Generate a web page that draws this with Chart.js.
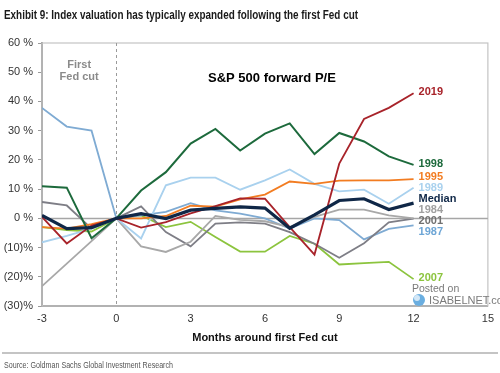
<!DOCTYPE html>
<html>
<head>
<meta charset="utf-8">
<script src="https://cdn.jsdelivr.net/npm/chart.js@4/dist/chart.umd.min.js"></script>
<style>
  html, body { margin: 0; padding: 0; background: #fff; }
  #wrap { width: 500px; height: 373px; position: relative; }
</style>
</head>
<body>
<div id="wrap"><canvas id="peChart" width="500" height="373"></canvas></div>
<script>
// months around the first Fed cut
const months = [-3, -2, -1, 0, 1, 2, 3, 4, 5, 6, 7, 8, 9, 10, 11, 12];

// forward P/E change vs. month 0 (%)
const pe2019   = [0.5, -8.6, -2.5, 0, -3.2, -1.3, 1.7, 4.2, 6.8, 6.7, -3, -12.4, 18.7, 34, 37.8, 42.8];
const pe1998   = [11, 10.5, -6.8, 0, 9.5, 15.8, 25.6, 30.6, 23.2, 29, 32.5, 22, 29.2, 26.3, 21.2, 18.3];
const pe1995   = [-3, -3.5, -2, 0, 0, 0.8, 4.3, 4, 6.5, 8.1, 12.6, 11.8, 12.9, 13, 13, 13.4];
const pe1989   = [-8.2, -6, -3.5, 0, -6.9, 11.3, 13.9, 13.9, 9.8, 13, 16.7, 11.8, 9.2, 9.8, 5, 10.5];
const peMedian = [1, -3.5, -3.2, 0, 1.6, -0.1, 2.8, 3.4, 3.9, 3.5, -3.4, 1.2, 6.1, 6.7, 3, 5.2];
const pe1984   = [-23.2, -15.5, -7.8, 0, -9.6, -11.5, -8, 0.8, -0.5, -1, -3, 0.5, 3, 3, 1, 0];
const pe2001   = [5.6, 4.4, -3.5, 0, 4.1, -4.7, -9.6, -1.8, -1.4, -1.8, -4.7, -8.7, -13.5, -8.5, -1.4, -0.1];
const pe1987   = [37.8, 31.4, 30, 0, 1, 2.2, 5.2, 2.7, 1.6, 0, -3.5, 0, -0.6, -7.2, -3.6, -2.4];
const pe2007   = [-3, -4, -4.5, 0, 1, -3, -1.2, -6.4, -11.4, -11.4, -6, -8.7, -15.8, -15.3, -14.9, -20.8];

const yTicks = [-30, -20, -10, 0, 10, 20, 30, 40, 50, 60];
const xTicks = [-3, 0, 3, 6, 9, 12, 15];

const series = [
  { name: 'Median', data: peMedian, color: '#0f2747', label: '#0f2747', width: 3.2, order: 0 },
  { name: '2019', data: pe2019, color: '#a8232a', label: '#a8232a', width: 1.8, order: 1 },
  { name: '1998', data: pe1998, color: '#1d6a3c', label: '#1d6a3c', width: 2, order: 1 },
  { name: '1995', data: pe1995, color: '#f27c21', label: '#f27c21', width: 1.8, order: 1 },
  { name: '1989', data: pe1989, color: '#a9d1ee', label: '#a9d1ee', width: 1.8, order: 1 },
  { name: '1984', data: pe1984, color: '#a8a8a8', label: '#a0a0a0', width: 1.8, order: 1 },
  { name: '2001', data: pe2001, color: '#7e7e86', label: '#707070', width: 1.8, order: 1 },
  { name: '1987', data: pe1987, color: '#7fabd3', label: '#6ea6d6', width: 1.8, order: 1 },
  { name: '2007', data: pe2007, color: '#8cc43e', label: '#8cc43e', width: 1.8, order: 1 }
];

const fontMain = '"Liberation Sans", Arial, sans-serif';

function fmtPct(v) {
  if (v < 0) return '(' + Math.abs(v) + ')%';
  return v + ' %';
}

// draw text squeezed to a given width (the original uses a condensed face)
function fitText(ctx, text, x, y, width) {
  const w = ctx.measureText(text).width;
  ctx.save();
  ctx.translate(x, y);
  ctx.scale(width / w, 1);
  ctx.fillText(text, 0, 0);
  ctx.restore();
}

// reference lines, frame and annotations
const decorPlugin = {
  id: 'decor',
  beforeDatasetsDraw(chart) {
    const { ctx, chartArea: a, scales: { x, y } } = chart;
    ctx.save();
    // frame
    ctx.strokeStyle = '#c4c4c4';
    ctx.lineWidth = 1.2;
    ctx.strokeRect(a.left, a.top, a.right - a.left, a.bottom - a.top);
    // zero line
    const y0 = Math.round(y.getPixelForValue(0)) + 0.5;
    ctx.strokeStyle = '#a6a6a6';
    ctx.lineWidth = 1.5;
    ctx.beginPath();
    ctx.moveTo(a.left, y0);
    ctx.lineTo(a.right, y0);
    ctx.stroke();
    // first cut marker
    const x0 = Math.round(x.getPixelForValue(0)) + 0.5;
    ctx.strokeStyle = '#9a9a9a';
    ctx.lineWidth = 1;
    ctx.setLineDash([3, 3]);
    ctx.beginPath();
    ctx.moveTo(x0, a.top);
    ctx.lineTo(x0, a.bottom);
    ctx.stroke();
    ctx.setLineDash([]);
    ctx.restore();
  },
  afterDraw(chart) {
    const { ctx, scales: { x, y } } = chart;
    ctx.save();
    // title
    ctx.fillStyle = '#1a1a1a';
    ctx.font = 'bold 12.5px ' + fontMain;
    ctx.textBaseline = 'alphabetic';
    ctx.textAlign = 'left';
    fitText(ctx, 'Exhibit 9: Index valuation has typically expanded following the first Fed cut', 4, 19, 354);

    // "First Fed cut"
    ctx.fillStyle = '#8a8a8a';
    ctx.font = 'bold 11px ' + fontMain;
    ctx.textAlign = 'center';
    ctx.textBaseline = 'middle';
    const cx = (x.getPixelForValue(-3) + x.getPixelForValue(0)) / 2;
    ctx.fillText('First', cx, 65);
    ctx.fillText('Fed cut', cx, 77);

    // chart subtitle
    ctx.fillStyle = '#000';
    ctx.font = 'bold 13px ' + fontMain;
    ctx.textAlign = 'left';
    ctx.fillText('S&P 500 forward P/E', 208, 78);

    // end labels, spread apart where they crowd
    const last = months.length - 1;
    const items = series.map(s => ({
      s, y: y.getPixelForValue(s.data[last]), px: x.getPixelForValue(months[last])
    })).sort((p, q) => p.y - q.y);
    const gap = 11;
    const groups = items.map(it => ({ list: [it], c: it.y }));
    let moved = true;
    while (moved) {
      moved = false;
      for (let i = 0; i < groups.length - 1; i++) {
        const g1 = groups[i], g2 = groups[i + 1];
        const bottom1 = g1.c + (g1.list.length - 1) * gap / 2;
        const top2 = g2.c - (g2.list.length - 1) * gap / 2;
        if (top2 - bottom1 < gap) {
          const list = g1.list.concat(g2.list);
          const c = list.reduce((t, it) => t + it.y, 0) / list.length;
          groups.splice(i, 2, { list, c });
          moved = true;
          break;
        }
      }
    }
    ctx.font = 'bold 11px ' + fontMain;
    ctx.textAlign = 'left';
    ctx.textBaseline = 'middle';
    groups.forEach(g => {
      g.list.forEach((it, k) => {
        const ly = g.c + (k - (g.list.length - 1) / 2) * gap - 1;
        ctx.fillStyle = it.s.label;
        ctx.fillText(it.s.name, it.px + 5, ly);
      });
    });

    // watermark
    ctx.fillStyle = '#7a7a7a';
    ctx.font = '10.5px ' + fontMain;
    ctx.textAlign = 'left';
    ctx.fillText('Posted on', 412, 289);
    ctx.font = '11px ' + fontMain;
    ctx.fillText('ISABELNET.com', 429, 301);
    ctx.fillStyle = '#6aaee0';
    ctx.beginPath();
    ctx.arc(419, 300, 6, 0, Math.PI * 2);
    ctx.fill();
    ctx.fillStyle = '#d4e8f7';
    ctx.beginPath();
    ctx.arc(417, 298, 3, 0, Math.PI * 2);
    ctx.fill();

    // source line
    ctx.strokeStyle = '#b0b0b0';
    ctx.lineWidth = 1.5;
    ctx.beginPath();
    ctx.moveTo(2, 353);
    ctx.lineTo(498, 353);
    ctx.stroke();
    ctx.fillStyle = '#555';
    ctx.font = '9px ' + fontMain;
    fitText(ctx, 'Source: Goldman Sachs Global Investment Research', 4, 366, 169);
    ctx.restore();
  }
};

const ctx = document.getElementById('peChart').getContext('2d');
new Chart(ctx, {
  type: 'line',
  data: {
    datasets: series.map(s => ({
      label: s.name,
      data: months.map((m, i) => ({ x: m, y: s.data[i] })),
      borderColor: s.color,
      borderWidth: s.width,
      pointRadius: 0,
      tension: 0,
      fill: false,
      order: s.order,
      borderJoinStyle: 'miter'
    }))
  },
  options: {
    responsive: false,
    animation: false,
    layout: { padding: { top: 43, right: 8, bottom: 28, left: 0 } },
    plugins: {
      legend: { display: false },
      tooltip: { enabled: false }
    },
    scales: {
      x: {
        type: 'linear',
        min: -3,
        max: 15,
        afterBuildTicks: s => { s.ticks = xTicks.map(v => ({ value: v })); },
        afterFit: s => { s.height = 39; },
        grid: { display: false, drawTicks: false },
        border: { display: true, color: '#9a9a9a', width: 2 },
        ticks: { color: '#333', font: { family: fontMain, size: 11 }, padding: 6 },
        title: {
          display: true,
          text: 'Months around first Fed cut',
          color: '#111',
          font: { family: fontMain, size: 11, weight: 'bold' },
          padding: { top: 4, bottom: 0 }
        }
      },
      y: {
        min: -30,
        max: 60,
        afterBuildTicks: s => { s.ticks = yTicks.map(v => ({ value: v })); },
        afterFit: s => { s.width = 42; },
        grid: { display: true, drawOnChartArea: false, drawTicks: true, tickLength: 4, color: '#9a9a9a' },
        border: { display: true, color: '#9a9a9a', width: 2 },
        ticks: {
          color: '#333',
          font: { family: fontMain, size: 11 },
          padding: 5,
          callback: v => fmtPct(v)
        }
      }
    }
  },
  plugins: [decorPlugin]
});
</script>
</body>
</html>
